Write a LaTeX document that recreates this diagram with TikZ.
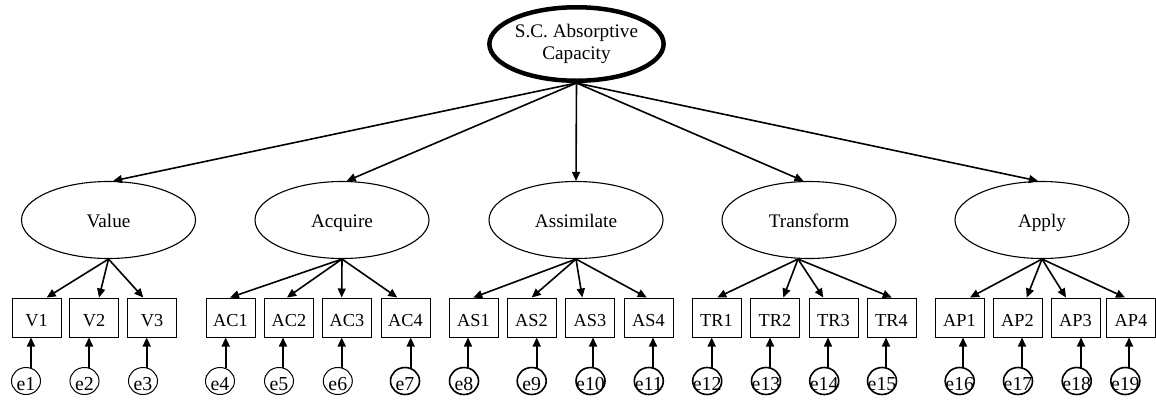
\documentclass[tikz,border=0pt]{standalone}
\usepackage{fontspec}
\setmainfont{Liberation Serif}
\usetikzlibrary{shapes.geometric,arrows.meta}
\begin{document}
\begin{tikzpicture}[x=1pt,y=-1pt,
  font=\fontsize{19.2}{21.7}\selectfont,
  lat/.style={draw,ellipse,line width=1.1pt,minimum width=174pt,minimum height=77pt,inner sep=0pt,text height=14.6pt,text depth=0pt},
  topell/.style={draw,ellipse,line width=4.5pt,minimum width=172.5pt,minimum height=73.5pt,inner sep=0pt,align=center},
  obs/.style={draw,rectangle,line width=1pt,minimum width=49pt,minimum height=39pt,inner sep=0pt,text height=18.4pt,text depth=0pt,font=\fontsize{18.3}{21}\selectfont},
  err/.style={draw,ellipse,line width=1pt,minimum width=29pt,minimum height=27pt,inner sep=0pt},
  errb/.style={err,line width=1.6pt},
  etext/.style={inner sep=0pt,text height=18pt,text depth=0pt,font=\fontsize{19.8}{20}\selectfont},
  arr/.style={-{Triangle[length=9pt,width=8pt]},line width=1.6pt},
]
\useasboundingbox (0,0) rectangle (1156,400);

\node[topell] (T) at (576.5,44) {S.C. Absorptive\\Capacity};

\node[lat] (L1) at (108.5,220) {Value};
\node[lat] (L2) at (342,220) {Acquire};
\node[lat] (L3) at (576,220) {Assimilate};
\node[lat] (L4) at (809,220) {Transform};
\node[lat] (L5) at (1042,220) {Apply};

\draw[arr] (T.south) -- ([xshift=4.5pt]L1.north);
\draw[arr] (T.south) -- ([xshift=4.7pt]L2.north);
\draw[arr] (T.south) -- (L3.north);
\draw[arr] (T.south) -- ([xshift=-5.5pt]L4.north);
\draw[arr] (T.south) -- ([xshift=-4pt]L5.north);

\coordinate (s1) at (L1.south);
\coordinate (s2) at (L2.south);
\coordinate (s3) at (L3.south);
\coordinate (s4) at ([xshift=-11pt]L4.south);
\coordinate (s5) at (L5.south);

\foreach \i/\lab/\bx/\tx/\cx/\ax/\L/\s in {
  1/V1/36.5/46.7/26/31/s1/err,
  2/V2/94/99/84.5/89/s1/err,
  3/V3/152/143.3/143/146.7/s1/err,
  4/AC1/230.5/230/220/225.7/s2/err,
  5/AC2/289/287/279/283/s2/err,
  6/AC3/347/341.7/337.8/341.7/s2/err,
  7/AC4/405.5/397.3/405/410.7/s2/errb,
  8/AS1/473.5/473.3/464/468/s3/errb,
  9/AS2/531.5/531.7/531.7/536.7/s3/errb,
  10/AS3/590/582.3/590.5/593/s3/errb,
  11/AS4/648.5/646.7/648.8/653/s3/errb,
  12/TR1/716.5/717.3/707.2/711.7/s4/errb,
  13/TR2/775/783.3/766/770/s4/errb,
  14/TR3/833.5/823.3/824.2/828/s4/errb,
  15/TR4/891.5/891.7/882/886/s4/errb,
  16/AP1/959.5/970/959.7/963/s5/errb,
  17/AP2/1017.5/1026.7/1018/1022/s5/errb,
  18/AP3/1075.5/1066/1076.7/1081/s5/errb,
  19/AP4/1131/1125/1125.3/1129/s5/errb}
{
  \node[obs] (b\i) at (\bx,317.5) {\lab};
  \node[\s] (e\i) at (\cx,381) {};
  \node[etext] (et\i) at (e\i.center) {e\i};
  \draw[arr] (\L) -- ([xshift=\tx pt-\bx pt]b\i.north);
  \path (e\i.north) ++(\ax-\cx,0.8) coordinate (ea\i);
  \draw[arr] (ea\i) -- (ea\i |- b\i.south);
}
\end{tikzpicture}
\end{document}
